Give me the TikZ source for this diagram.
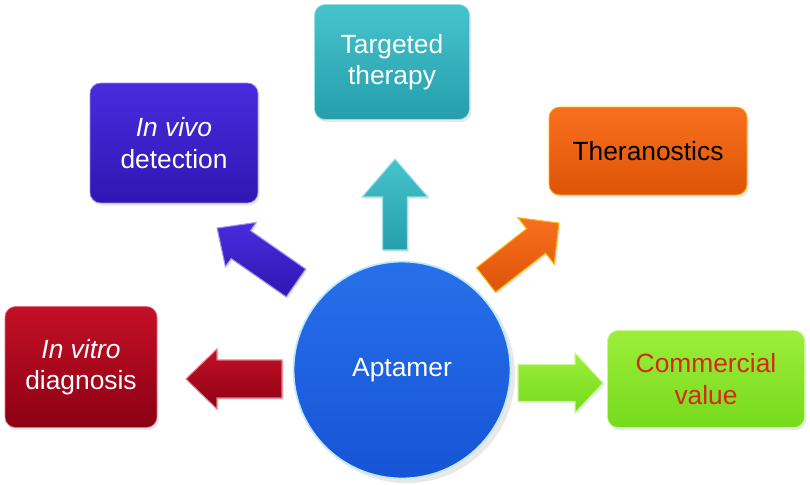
\documentclass[tikz,border=0pt]{standalone}
\usepackage{fontspec}
\setmainfont{Liberation Sans}
\usepackage{tikz}
\usetikzlibrary{calc,shadows}

\definecolor{vitrored}{RGB}{196,16,38}
\definecolor{vitrodark}{RGB}{140,0,20}
\definecolor{vivoblue}{RGB}{72,44,222}
\definecolor{vivodark}{RGB}{48,22,178}
\definecolor{targetteal}{RGB}{70,196,204}
\definecolor{targetdark}{RGB}{38,158,172}
\definecolor{theraorange}{RGB}{248,112,30}
\definecolor{theradark}{RGB}{222,84,8}
\definecolor{commgreen}{RGB}{156,238,58}
\definecolor{commdark}{RGB}{118,218,28}
\definecolor{commtext}{RGB}{212,42,20}
\definecolor{aptblue}{RGB}{40,112,234}
\definecolor{aptdark}{RGB}{22,84,214}

% block arrow from a tail coordinate to a tip coordinate
\newcommand{\bigarrow}[6]{%
	\path let \p1=($(#3)-(#2)$) in \pgfextra{%
		\pgfmathsetmacro\arrang{atan2(\y1,\x1)}\global\let\arrang\arrang
		\pgfmathsetmacro\arrlen{veclen(\x1,\y1)}\global\let\arrlen\arrlen};
	\shade[#1,shift={(#2)},rotate=\arrang]
		(0pt,-#4) -- ({\arrlen pt-#6},-#4) -- ({\arrlen pt-#6},-#5) -- (\arrlen pt,0pt)
		-- ({\arrlen pt-#6},#5) -- ({\arrlen pt-#6},#4) -- (0pt,#4) -- cycle;
}

\begin{document}
\begin{tikzpicture}[x=0.02cm,y=-0.02cm,
	box/.style={rounded corners=6pt, align=center, inner sep=0pt,
		font=\fontsize{15}{18}\selectfont, text=white,
		drop shadow={opacity=0.18, shadow xshift=1pt, shadow yshift=-1.5pt}},
	arr/.style={drop shadow={opacity=0.15, shadow xshift=1pt, shadow yshift=-1pt}, line width=0.6pt}]

	\useasboundingbox (0,0) rectangle (810,484);

	% centre
	\node[circle, minimum size=4.34cm, top color=aptblue, bottom color=aptdark,
		draw=cyan!25, line width=1pt, text=white, font=\fontsize{15}{18}\selectfont,
		drop shadow={opacity=0.18}] (apt) at (402,370) {Aptamer};

	% outcomes
	\node[box, minimum width=3.04cm, minimum height=2.42cm, top color=vitrored, bottom color=vitrodark,
		draw=vitrored!60!white] (vitro) at (81,367) {\textit{In vitro}\\diagnosis};
	\node[box, minimum width=3.36cm, minimum height=2.40cm, top color=vivoblue, bottom color=vivodark,
		draw=vivoblue!55!white] (vivo) at (174,143) {\textit{In vivo}\\detection};
	\node[box, minimum width=3.10cm, minimum height=2.30cm, top color=targetteal, bottom color=targetdark,
		draw=targetteal!55!white] (target) at (392,62) {Targeted\\therapy};
	\node[box, minimum width=3.96cm, minimum height=1.76cm, top color=theraorange, bottom color=theradark,
		draw=theraorange!50!yellow, text=black] (thera) at (648,151) {Theranostics};
	\node[box, minimum width=3.94cm, minimum height=1.94cm, top color=commgreen, bottom color=commdark,
		draw=commgreen!55!white, text=commtext] (comm) at (706,379) {Commercial\\value};

	% arrow ends
	\coordinate (vitroTail) at (282,379);
	\coordinate (vitroTip) at (186,379);
	\coordinate (vivoTail) at (296,283);
	\coordinate (vivoTip) at (217,228);
	\coordinate (targetTail) at (395,250);
	\coordinate (targetTip) at (395,159);
	\coordinate (theraTail) at (486,280);
	\coordinate (theraTip) at (559,223);
	\coordinate (commTail) at (518,383);
	\coordinate (commTip) at (603,383);

	\bigarrow{arr, top color=vitrored, bottom color=vitrodark, draw=vitrored!55!white}{vitroTail}{vitroTip}{0.38cm}{0.60cm}{0.62cm}
	\bigarrow{arr, top color=vivoblue, bottom color=vivodark, draw=vivoblue!50!white}{vivoTail}{vivoTip}{0.34cm}{0.54cm}{0.58cm}
	\bigarrow{arr, top color=targetteal, bottom color=targetdark, draw=targetteal!50!white}{targetTail}{targetTip}{0.25cm}{0.66cm}{0.76cm}
	\bigarrow{arr, top color=theraorange, bottom color=theradark, draw=theraorange!50!yellow}{theraTail}{theraTip}{0.31cm}{0.59cm}{0.58cm}
	\bigarrow{arr, top color=commgreen, bottom color=commdark, draw=commgreen!50!white}{commTail}{commTip}{0.37cm}{0.60cm}{0.56cm}
\end{tikzpicture}
\end{document}
